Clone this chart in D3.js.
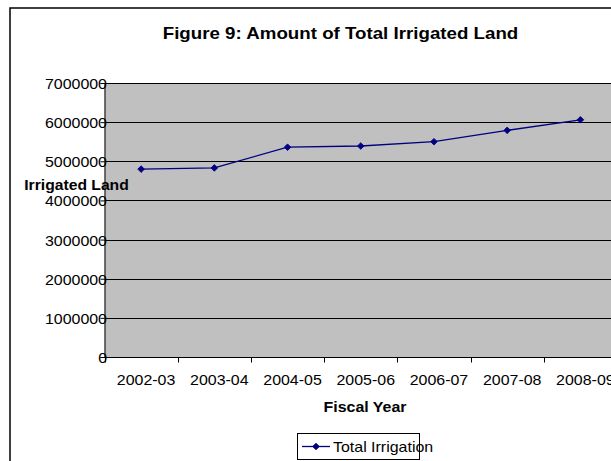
<!DOCTYPE html>
<html><head><meta charset="utf-8">
<script src="https://cdn.jsdelivr.net/npm/d3@7"></script>
<style>body{margin:0;background:#fff}svg{display:block}text{font-family:Arial,"Liberation Sans",sans-serif;fill:#000}</style>
</head><body>
<script>
const categories = ["2002-03","2003-04","2004-05","2005-06","2006-07","2007-08","2008-09"];
const totalIrrigation = [4800000,4830000,5360000,5390000,5500000,5790000,6060000];
const yTicks = [0,1000000,2000000,3000000,4000000,5000000,6000000,7000000];
const seriesName = "Total Irrigation";
const titleText = "Figure 9: Amount of Total Irrigated Land";
const xTitle = "Fiscal Year";
const yTitle = "Irrigated Land";

const W = 611, H = 461;
const SX = 1.14;
const svg = d3.select("body").append("svg").attr("width", W).attr("height", H);
function txt(g, x, y, s, opts) {
  opts = opts || {};
  return g.append("text")
    .attr("transform", `translate(${x},${y}) scale(${opts.sx || SX},1)`)
    .attr("text-anchor", opts.anchor || "middle")
    .attr("font-size", opts.size || 14)
    .attr("font-weight", opts.bold ? "bold" : "normal")
    .text(s);
}
// outer chart border
svg.append("rect").attr("x",10).attr("y",8).attr("width",640).attr("height",500)
  .attr("fill","#fff").attr("stroke","#000").attr("stroke-width",1.5);

const x = d3.scaleBand().domain(categories).range([104.5, 617]).padding(0);
const y = d3.scaleLinear().domain([0, 7000000]).range([357, 83]);

// plot area
svg.append("rect").attr("x",104.5).attr("y",y(7000000)).attr("width",617-104.5).attr("height",y(0)-y(7000000))
  .attr("fill","#c0c0c0");
// gridlines
svg.append("g").selectAll("line").data(yTicks.filter(d=>d>0)).join("line")
  .attr("x1",104.5).attr("x2",617).attr("y1",d=>Math.round(y(d))+0.5).attr("y2",d=>Math.round(y(d))+0.5)
  .attr("stroke","#000").attr("stroke-width",1);

// y axis
const ya = svg.append("g").attr("transform","translate(104.5,0)")
  .call(d3.axisLeft(y).tickValues(yTicks).tickSize(4).tickFormat(d3.format("d")));
ya.select(".domain").attr("stroke","#000");
ya.selectAll(".tick line").attr("stroke","#000");
ya.selectAll(".tick text").remove();
const ylab = svg.append("g");
yTicks.forEach(v => txt(ylab, 107, y(v) + 6, d3.format("d")(v), {anchor:"end"}));

// x axis
const xa = svg.append("g").attr("transform","translate(0,357.5)");
xa.append("line").attr("x1",104.5).attr("x2",617).attr("stroke","#000");
const edges = categories.map(c=>x(c)).concat([x(categories[categories.length-1])+x.bandwidth()]);
xa.selectAll("line.t").data(edges).join("line").attr("class","t")
  .attr("x1",d=>Math.round(d)+0.5).attr("x2",d=>Math.round(d)+0.5).attr("y1",0).attr("y2",5).attr("stroke","#000");
categories.forEach(c => txt(xa, x(c)+x.bandwidth()/2 + 5, 27.5, c));

// line
const line = d3.line().x((d,i)=>x(categories[i])+x.bandwidth()/2).y(d=>y(d));
svg.append("path").datum(totalIrrigation).attr("d",line).attr("fill","none").attr("stroke","#000080").attr("stroke-width",1.3);
const diamond = d3.symbol().type(d3.symbolSquare).size(22);
svg.append("g").selectAll("path").data(totalIrrigation).join("path")
  .attr("transform",(d,i)=>`translate(${x(categories[i])+x.bandwidth()/2},${y(d)}) rotate(45)`)
  .attr("d",diamond).attr("fill","#000080").attr("stroke","#000080").attr("stroke-width",0.8);

// titles
txt(svg, 340.5, 39, titleText, {bold:true, size:16, sx:1.17});
txt(svg, 365, 412, xTitle, {bold:true});
txt(svg, 76.5, 190, yTitle, {bold:true, sx:1.12});

// legend
const lg = svg.append("g");
lg.append("rect").attr("x",297.5).attr("y",433.5).attr("width",122).attr("height",26).attr("fill","#fff").attr("stroke","#000");
lg.append("line").attr("x1",302).attr("x2",330).attr("y1",446.5).attr("y2",446.5).attr("stroke","#000080").attr("stroke-width",1.3);
lg.append("path").attr("transform","translate(316,446.5) rotate(45)").attr("d",diamond).attr("fill","#000080").attr("stroke","#000080").attr("stroke-width",0.8);
txt(lg, 333, 452, seriesName, {anchor:"start"});
</script>
</body></html>
